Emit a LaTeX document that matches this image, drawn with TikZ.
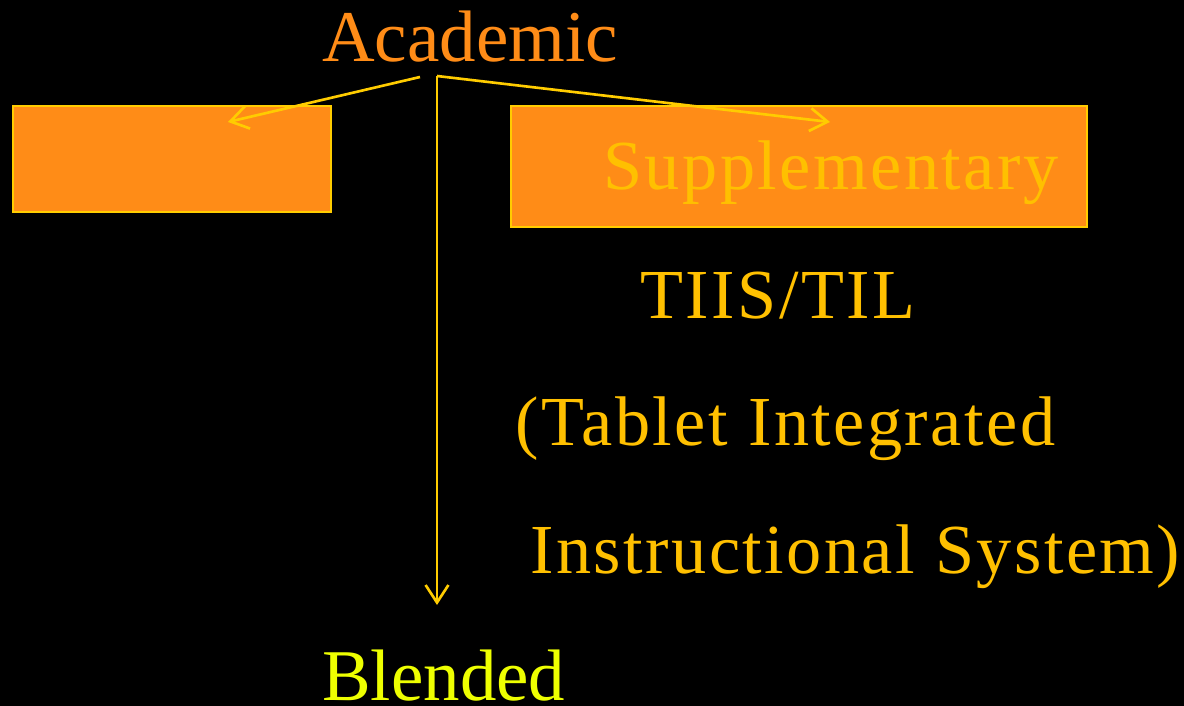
\documentclass[tikz,border=0pt]{standalone}
\usepackage{fontspec}
\setmainfont{Liberation Serif}
\newfontfamily\spacedfont[LetterSpace=3.5]{Liberation Serif}
\usetikzlibrary{arrows.meta}
\definecolor{boxorange}{HTML}{FF8C17}
\definecolor{lineyellow}{HTML}{FFCC00}
\definecolor{textgold}{HTML}{FFC000}
\definecolor{textyellow}{HTML}{EEFF00}

\begin{document}
\begin{tikzpicture}[
  x=0.02cm, y=-0.02cm,
  box/.style={draw=lineyellow, fill=boxorange, line width=1.6pt},
  label/.style={anchor=base west, inner sep=0pt, font=\fontsize{40}{40}\selectfont},
  biglabel/.style={label, font=\fontsize{41.5}{41.5}\selectfont},
  arrow/.style={-{Straight Barb[length=10pt,width=13pt]}, draw=lineyellow, line width=1.5pt}
]
\fill[black] (0,0) rectangle (1184,706);
\useasboundingbox (0,0) rectangle (1184,706);

% Boxes
\draw[box] (13,106) rectangle (331,212);
\draw[box] (511,106) rectangle (1087,227);

% Texts
\node[biglabel, text=boxorange] (academic) at (322,62) {Academic};
\node[label, text=textgold] (supp) at (603,190) {\spacedfont Supplementary};
\node[label, text=textgold] (tiis) at (640,318) {\spacedfont TIIS/TIL};
\node[label, text=textgold] (tablet) at (515,445) {\spacedfont (Tablet Integrated};
\node[label, text=textgold] (instr) at (530,573) {\spacedfont Instructional System)};
\node[biglabel, text=textyellow] (blended) at (322,700) {Blended};

% Arrow ends
\coordinate (leftstart) at (420,77);
\coordinate (fork) at (437,76);
\coordinate (leftend) at (228,122);
\coordinate (suppend) at (830,122);
\coordinate (downend) at (437,605);

% Arrows
\draw[arrow] (leftstart) -- (leftend);
\draw[arrow] (fork) -- (suppend);
\draw[arrow] (fork) -- (downend);

\end{tikzpicture}
\end{document}
